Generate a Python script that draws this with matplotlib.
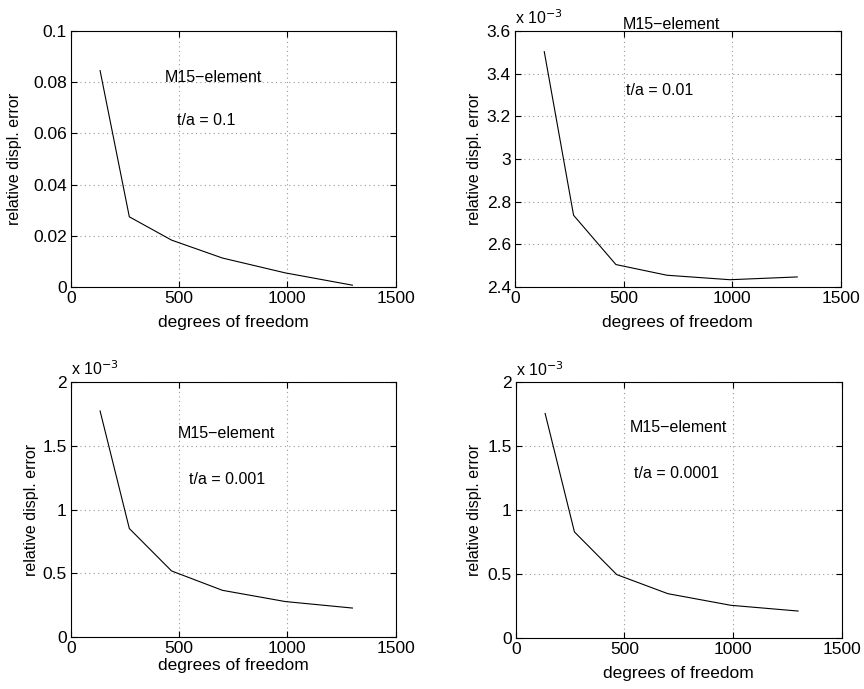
import matplotlib
matplotlib.use('Agg')
import matplotlib.pyplot as plt
from matplotlib.ticker import FuncFormatter

plt.rcParams['font.family'] = ['Liberation Sans', 'DejaVu Sans']

# degrees of freedom (same meshes in all four panels)
dof = [135, 270, 465, 700, 990, 1300]

# relative displacement error, one series per thickness ratio
err_01 = [0.0845, 0.0274, 0.0183, 0.0113, 0.0055, 0.0007]
err_001 = [3.503e-3, 2.736e-3, 2.505e-3, 2.455e-3, 2.434e-3, 2.447e-3]
err_0001 = [1.773e-3, 0.851e-3, 0.518e-3, 0.366e-3, 0.278e-3, 0.227e-3]
err_00001 = [1.757e-3, 0.830e-3, 0.496e-3, 0.347e-3, 0.256e-3, 0.211e-3]

ratio_labels = ['t/a = 0.1', 't/a = 0.01', 't/a = 0.001', 't/a = 0.0001']

fig = plt.figure(figsize=(8.64, 6.89), dpi=100)

# panel rectangles [left, bottom, width, height]
rects = [[0.082, 0.5835, 0.376, 0.3716],
         [0.596, 0.5835, 0.377, 0.3716],
         [0.082, 0.0755, 0.376, 0.370],
         [0.597, 0.0740, 0.377, 0.371]]

series = [err_01, err_001, err_0001, err_00001]
ylims = [(0, 0.1), (2.4e-3, 3.6e-3), (0, 2e-3), (0, 2e-3)]
yticks = [[0, 0.02, 0.04, 0.06, 0.08, 0.1],
          [2.4e-3, 2.6e-3, 2.8e-3, 3.0e-3, 3.2e-3, 3.4e-3, 3.6e-3],
          [0, 0.5e-3, 1e-3, 1.5e-3, 2e-3],
          [0, 0.5e-3, 1e-3, 1.5e-3, 2e-3]]
scaled = [False, True, True, True]
# label positions in axes fraction
ylab_x = [-0.172, -0.123, -0.12, -0.126]
xlab_y = [-0.14, -0.137, -0.11, -0.137]
# text positions in data coords: (M15 label, t/a label)
elem_pos = [(657, 0.082), (721, 3.628e-3), (717, 1.595e-3), (748, 1.648e-3)]
ratio_pos = [(626, 0.065), (667, 3.32e-3), (723, 1.234e-3), (740, 1.287e-3)]

for i in range(4):
    ax = fig.add_axes(rects[i])
    ax.plot(dof, series[i], color='black', linewidth=0.8)
    ax.set_xlim(0, 1500)
    ax.set_ylim(*ylims[i])
    ax.set_xticks([0, 500, 1000, 1500])
    ax.set_yticks(yticks[i])
    if scaled[i]:
        ax.yaxis.set_major_formatter(FuncFormatter(lambda v, p: '%g' % round(v * 1e3, 3)))
        ax.text(0.0, 1.015, r'x 10$^{-3}$', transform=ax.transAxes, fontsize=11.5,
                ha='left', va='bottom')
    else:
        ax.yaxis.set_major_formatter(FuncFormatter(lambda v, p: '%g' % round(v, 3)))
    ax.grid(True, linestyle=(0, (1, 3)), color='#999999', linewidth=0.8)
    ax.tick_params(direction='in', top=True, right=True, labelsize=12.5, length=4, pad=3)
    for s in ax.spines.values():
        s.set_linewidth(0.8)
    ax.set_xlabel('degrees of freedom', fontsize=12.5, va='center')
    ax.set_ylabel('relative displ. error', fontsize=11.5, va='center')
    ax.xaxis.set_label_coords(0.5, xlab_y[i])
    ax.yaxis.set_label_coords(ylab_x[i], 0.5)
    ax.text(elem_pos[i][0], elem_pos[i][1], 'M15\u2212element', fontsize=11.5,
            ha='center', va='center', clip_on=False)
    ax.text(ratio_pos[i][0], ratio_pos[i][1], ratio_labels[i], fontsize=11.5,
            ha='center', va='center')

fig.savefig('out.png', dpi=100)
